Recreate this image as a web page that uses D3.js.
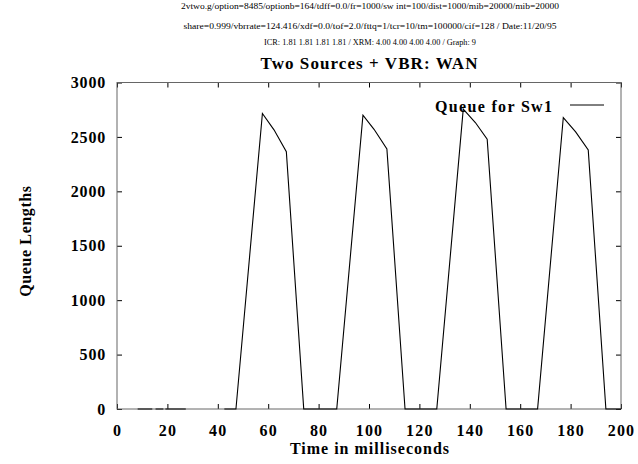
<!DOCTYPE html>
<html>
<head>
<meta charset="utf-8">
<script src="https://cdn.jsdelivr.net/npm/d3@7"></script>
<style>
  html, body { margin: 0; padding: 0; background: #fff; }
  svg { display: block; }
  text { font-family: "Liberation Serif", "DejaVu Serif", serif; fill: #000; }
</style>
</head>
<body>
<svg id="chart" width="638" height="464"></svg>
<script>
// ---- data ----
const headerLines = [
  "2vtwo.g/option=8485/optionb=164/tdff=0.0/fr=1000/sw  int=100/dist=1000/mib=20000/mib=20000",
  "share=0.999/vbrrate=124.416/xdf=0.0/tof=2.0/fttq=1/tcr=10/tm=100000/cif=128 / Date:11/20/95",
  "ICR: 1.81 1.81 1.81 1.81 / XRM: 4.00 4.00 4.00 4.00 / Graph: 9"
];
const chartTitle = "Two Sources + VBR: WAN";
const xTitle = "Time in milliseconds";
const yTitle = "Queue Lengths";
const seriesName = "Queue for Sw1";
const xTicks = [0, 20, 40, 60, 80, 100, 120, 140, 160, 180, 200];
const yTicks = [0, 500, 1000, 1500, 2000, 2500, 3000];
// time (ms) and queue length; null queue values break the line
const timeMs = [8.2, 14, 14.5, 15.3, 18.4, 18.8, 19.2, 27.3, 35, 42.6, 47.2,
  57.7, 62.3, 67.2, 74.1, 87.2,
  97.6, 102, 107.1, 114.3, 126.9,
  137.4, 142.2, 146.9, 154.4, 166.9,
  177.1, 182, 187, 194, 200];
const queue = [0, 0, null, 0, 0, null, 0, 0, null, 0, 0,
  2715, 2565, 2365, 0, 0,
  2700, 2570, 2390, 0, 0,
  2755, 2632, 2479, 0, 0,
  2678, 2546, 2380, 0, 0];

// ---- layout ----
const FONT = "'Liberation Serif', 'DejaVu Serif', serif";
const svg = d3.select("#chart");
const L = 117, R = 621, T = 82.5, B = 409;
const x = d3.scaleLinear().domain([0, 200]).range([L, R]);
const y = d3.scaleLinear().domain([0, 3000]).range([B, T]);

// header lines
const headerY = [9, 29, 45];
const headerW = [378, 373, 212];
headerLines.forEach((s, i) => {
  svg.append("text")
    .attr("x", 370).attr("y", headerY[i])
    .attr("text-anchor", "middle")
    .attr("font-family", FONT)
    .attr("font-size", 9)
    .attr("textLength", headerW[i])
    .attr("lengthAdjust", "spacingAndGlyphs")
    .text(s);
});

// title
svg.append("text")
  .attr("x", 369).attr("y", 69)
  .attr("text-anchor", "middle")
  .attr("font-family", FONT)
  .attr("font-size", 17).attr("font-weight", "bold")
  .attr("textLength", 217).attr("lengthAdjust", "spacing")
  .text(chartTitle);

// axes
const tickFont = g => g.selectAll("text")
  .attr("font-size", 16).attr("font-weight", "bold")
  .attr("font-family", FONT)
  .attr("fill", "#000");

const gx = svg.append("g").attr("transform", `translate(0,${B})`)
  .call(d3.axisBottom(x).tickValues(xTicks).tickFormat(d3.format("d"))
    .tickSize(-5).tickSizeOuter(0).tickPadding(16));
gx.call(tickFont);
gx.selectAll("text").attr("letter-spacing", 1.2);

svg.append("g").attr("transform", `translate(0,${T})`)
  .call(d3.axisTop(x).tickValues(xTicks).tickSize(-5).tickSizeOuter(0).tickFormat(""));

const gy = svg.append("g").attr("transform", `translate(${L},0)`)
  .call(d3.axisLeft(y).tickValues(yTicks).tickFormat(d3.format("d"))
    .tickSize(-5).tickSizeOuter(0).tickPadding(11));
gy.call(tickFont);
gy.selectAll("text").attr("letter-spacing", 0.8);

svg.append("g").attr("transform", `translate(${R},0)`)
  .call(d3.axisRight(y).tickValues(yTicks).tickSize(-5).tickSizeOuter(0).tickFormat(""));

svg.selectAll(".domain").remove();
svg.selectAll(".tick line").attr("stroke", "#000");

// frame
svg.append("rect")
  .attr("x", L).attr("y", T).attr("width", R - L).attr("height", B - T)
  .attr("fill", "none").attr("stroke", "#666").attr("stroke-width", 1);

// axis titles
svg.append("text")
  .attr("x", 370).attr("y", 454)
  .attr("text-anchor", "middle")
  .attr("font-family", FONT)
  .attr("font-size", 16).attr("font-weight", "bold")
  .attr("letter-spacing", 1)
  .text(xTitle);

svg.append("text")
  .attr("transform", "translate(31,241) rotate(-90)")
  .attr("text-anchor", "middle")
  .attr("font-family", FONT)
  .attr("font-size", 16).attr("font-weight", "bold")
  .attr("letter-spacing", 0.6)
  .text(yTitle);

// line
const pts = timeMs.map((t, i) => ({ t, q: queue[i] }));
const line = d3.line()
  .defined(d => d.q !== null)
  .x(d => x(d.t)).y(d => y(d.q));
svg.append("path")
  .datum(pts)
  .attr("d", line)
  .attr("fill", "none").attr("stroke", "#000").attr("stroke-width", 1.1);

// legend
svg.append("text")
  .attr("x", 552).attr("y", 112)
  .attr("text-anchor", "end")
  .attr("font-family", FONT)
  .attr("font-size", 16).attr("font-weight", "bold")
  .attr("textLength", 117).attr("lengthAdjust", "spacing")
  .text(seriesName);
svg.append("line")
  .attr("x1", 570).attr("x2", 604).attr("y1", 105).attr("y2", 105)
  .attr("stroke", "#000").attr("stroke-width", 1);
</script>
</body>
</html>
